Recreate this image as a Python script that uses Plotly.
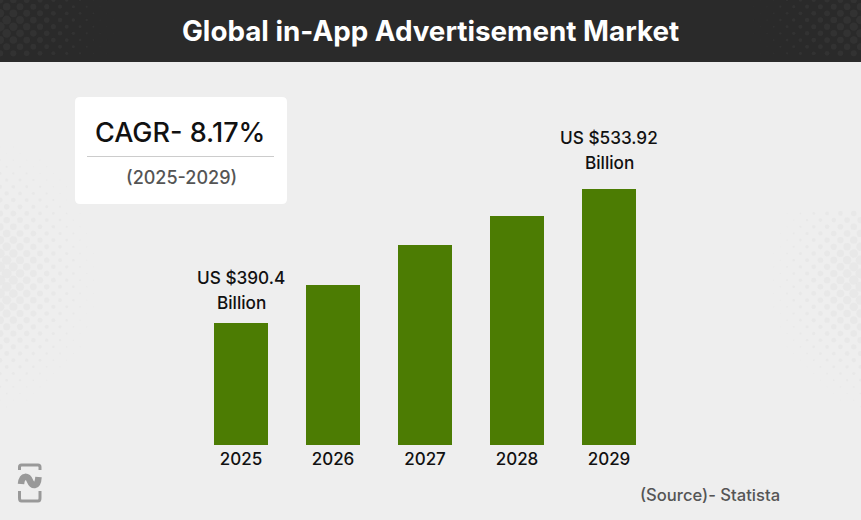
import plotly.graph_objects as go

years = ["2025", "2026", "2027", "2028", "2029"]
market_size = [390.4, 431.1, 473.9, 505.0, 533.92]
label_line1 = ["US $390.4", "", "", "", "US $533.92"]
label_line2 = ["Billion", "", "", "", "Billion"]

W, H = 861, 520
FONT = "Inter"
BASE = 259.7      # the drawn bars do not start at zero
PX_PER_UNIT = 0.9337


def px(x):
    return x / W


def py(y):
    return 1 - y / H


def rrect(x0, y0, x1, y1, r):
    # rounded rectangle as svg path, paper coords
    return (
        f"M {px(x0 + r)} {py(y0)} L {px(x1 - r)} {py(y0)} "
        f"Q {px(x1)} {py(y0)} {px(x1)} {py(y0 + r)} L {px(x1)} {py(y1 - r)} "
        f"Q {px(x1)} {py(y1)} {px(x1 - r)} {py(y1)} L {px(x0 + r)} {py(y1)} "
        f"Q {px(x0)} {py(y1)} {px(x0)} {py(y1 - r)} L {px(x0)} {py(y0 + r)} "
        f"Q {px(x0)} {py(y0)} {px(x0 + r)} {py(y0)} Z"
    )


def logo_path(cmds):
    # cmds is a list of (letter, x, y, x, y...) in pixels
    out = []
    for c in cmds:
        nums = c[1:]
        pts = [f"{px(nums[i])} {py(nums[i + 1])}" for i in range(0, len(nums), 2)]
        out.append(c[0] + " " + " ".join(pts))
    return " ".join(out)


def halftone(cx, cy, rx, ry, max_size, color, keep):
    # background dot texture, staggered grid
    xs, ys, sizes = [], [], []
    step = 6.67
    for col in range(0, 130):
        x = col * step
        for row in range(-1, 41):
            y = row * 2 * step + (step if col % 2 else 0)
            d = (((x - cx) / rx) ** 2 + ((y - cy) / ry) ** 2) ** 0.5
            if d < 1 and keep(x, y):
                xs.append(x)
                ys.append(y)
                sizes.append(max(max_size * (1 - d), 0.8))
    return go.Scatter(x=xs, y=ys, xaxis="x2", yaxis="y2", mode="markers", hoverinfo="skip",
                      marker=dict(size=sizes, color=color, line=dict(width=0)))


fig = go.Figure(
    go.Bar(x=years, y=market_size, marker=dict(color="#4c7c03", line=dict(width=0)), width=0.587)
)
in_body = lambda x, y: y > 62 and not (x > 72 and y < 207)
in_header = lambda x, y: y < 58
fig.add_trace(halftone(-15, 277, 112, 135, 12, "#e6e6e6", in_body))
fig.add_trace(halftone(878, 280, 108, 132, 12, "#e6e6e6", in_body))
fig.add_trace(halftone(-5, 25, 120, 80, 10, "#363636", in_header))
fig.add_trace(halftone(875, 25, 125, 80, 10, "#363636", in_header))

LOGO = "#999999"
shapes = [
    dict(type="rect", xref="paper", yref="paper", x0=0, x1=1, y0=py(62), y1=1,
         fillcolor="#2a2a2a", line_width=0, layer="below"),
    dict(type="path", xref="paper", yref="paper", path=rrect(75, 97, 287, 204, 5),
         fillcolor="white", line_width=0, layer="below"),
    dict(type="line", xref="paper", yref="paper", x0=px(87), x1=px(274), y0=py(156.5), y1=py(156.5),
         line=dict(color="#cccccc", width=1.2)),
    # logo
    dict(type="path", xref="paper", yref="paper", line=dict(color=LOGO, width=3),
         path=logo_path([("M", 19.5, 470), ("L", 19.5, 467), ("Q", 19.5, 465, 21.5, 465),
                         ("L", 38, 465), ("Q", 40, 465, 40, 467), ("L", 40, 470)])),
    dict(type="path", xref="paper", yref="paper", line=dict(color=LOGO, width=3),
         path=logo_path([("M", 19.5, 491), ("L", 19.5, 498), ("Q", 19.5, 501, 21.5, 501),
                         ("L", 38, 501), ("Q", 40, 501, 40, 498), ("L", 40, 491)])),
    dict(type="path", xref="paper", yref="paper", line=dict(color=LOGO, width=6.5),
         path=logo_path([("M", 21, 484), ("C", 22, 474, 28, 476, 30, 481), ("C", 32, 486, 38, 488, 38.5, 477)])),
]

annotations = [
    dict(text="<b>Global in-App Advertisement Market</b>", x=px(430.5), y=py(31), font=dict(size=27.8, color="white")),
    dict(text="CAGR- 8.17%", x=px(180), y=py(132), font=dict(size=27, color="#111111", weight=500)),
    dict(text="(2025-2029)", x=px(181), y=py(177), font=dict(size=18, color="#555555", weight=500)),
    dict(text="(Source)- Statista", x=px(782), y=py(495), xanchor="right", font=dict(size=16.6, color="#555555", weight=500)),
]
for a in annotations:
    a.update(xref="paper", yref="paper", showarrow=False, xanchor=a.get("xanchor", "center"), yanchor="middle")
    fig.add_annotation(**a)

# two separate lines because the line gap is wider than plotly's <br>
label_shifts = {0: (8, 33), 4: (14, 39)}
for i, (val, l1, l2) in enumerate(zip(market_size, label_line1, label_line2)):
    if l1:
        fig.add_annotation(x=i, y=val, xref="x", yref="y", text=l2, showarrow=False, yanchor="bottom",
                           yshift=label_shifts[i][0], font=dict(size=17.2, color="#111111", weight=500))
        fig.add_annotation(x=i, y=val, xref="x", yref="y", text=l1, showarrow=False, yanchor="bottom",
                           yshift=label_shifts[i][1], font=dict(size=17.2, color="#111111", weight=500))

fig.update_layout(
    width=W, height=H, margin=dict(l=0, r=0, t=0, b=0),
    paper_bgcolor="#eeeeee", plot_bgcolor="rgba(0,0,0,0)",
    font=dict(family=FONT), showlegend=False, shapes=shapes,
    xaxis=dict(type="category", domain=[px(195), px(655)], range=[-0.5, 4.5], showgrid=False, zeroline=False,
               showline=False, ticks="", tickfont=dict(size=17, color="#111111", weight=500), ticklabelstandoff=2),
    yaxis=dict(domain=[py(445), py(100)], range=[BASE, BASE + 345 / PX_PER_UNIT], visible=False),
    xaxis2=dict(domain=[0, 1], range=[0, W], visible=False, anchor="y2"),
    yaxis2=dict(domain=[0, 1], range=[H, 0], visible=False, anchor="x2"),
)

fig.write_html("out.html", config=dict(displayModeBar=False), post_script="document.body.style.margin='0';")
